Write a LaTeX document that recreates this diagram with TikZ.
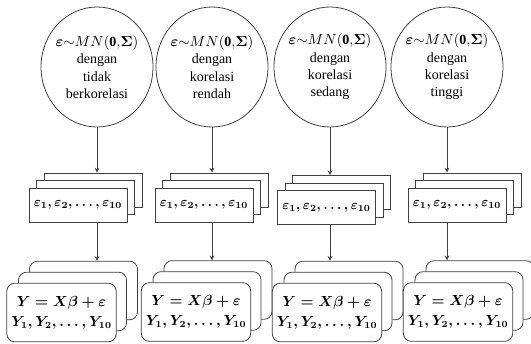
\documentclass[tikz,border=0pt]{standalone}
\usepackage{fontspec}
\setmainfont{Liberation Serif}
\usepackage{amsmath}
\usetikzlibrary{positioning,shapes.geometric,arrows}

\tikzset{
  every kotak/.style={draw=black!75, line width=0.6pt},
  sebaran/.style={every kotak/.try, ellipse, minimum width=84pt, minimum height=90pt,
    inner sep=0pt, text width=50pt, align=center, font=\fontsize{10.5}{13}\selectfont},
  galat/.style={every kotak/.try, rectangle, fill=white, minimum width=73.5pt,
    minimum height=25.5pt, font=\fontsize{10}{12}\selectfont\boldmath},
  model/.style={every kotak/.try, rectangle, rounded corners=6pt, fill=white,
    minimum width=81pt, minimum height=44pt, align=center,
    font=\fontsize{10.5}{15}\selectfont\boldmath}
}

\begin{document}
\begin{tikzpicture}[x=0.75pt, y=-0.75pt, >=stealth]

\useasboundingbox (0,0) rectangle (531,343);

\foreach \a/\b/\x [count=\i] in {tidak/berkorelasi/97, korelasi/rendah/212,
                                 korelasi/sedang/330, korelasi/tinggi/447}
  \node [sebaran] (sebaran-\i) at (\x,67)
    {\makebox[\linewidth]{$\boldsymbol{\varepsilon}{\sim}MN(\mathbf{0}{,}\boldsymbol{\Sigma})$}\\dengan\\\a\\\b};

\foreach \x/\y [count=\i] in {78/205, 204/205, 326.5/207.5, 457/205} {
  \node [galat] (galat-\i-c) at (\x+15,\y-15) {};
  \node [galat] (galat-\i-b) at (\x+7.5,\y-7.5) {};
  \node [galat] (galat-\i) at (\x,\y)
    {$\varepsilon_1, \varepsilon_2, \dots, \varepsilon_{10}$};
}

\foreach \x/\y [count=\i] in {61.5/312.5, 196/312, 327/312.5, 458/312} {
  \node [model] (model-\i-c) at (\x+22,\y-22) {};
  \node [model] (model-\i-b) at (\x+11,\y-11) {};
  \node [model] (model-\i) at (\x,\y)
    {$Y = X\beta + \varepsilon$\\$Y_1, Y_2, \dots, Y_{10}$};
}

\foreach \i in {1,...,4}
  \draw [->, every kotak/.try] (sebaran-\i.south) -- (sebaran-\i.south |- galat-\i-c.north);

\foreach \i in {1,...,4}
  \draw [->, every kotak/.try] (sebaran-\i.south |- galat-\i.south) -- (sebaran-\i.south |- model-\i-c.north);

\end{tikzpicture}
\end{document}
